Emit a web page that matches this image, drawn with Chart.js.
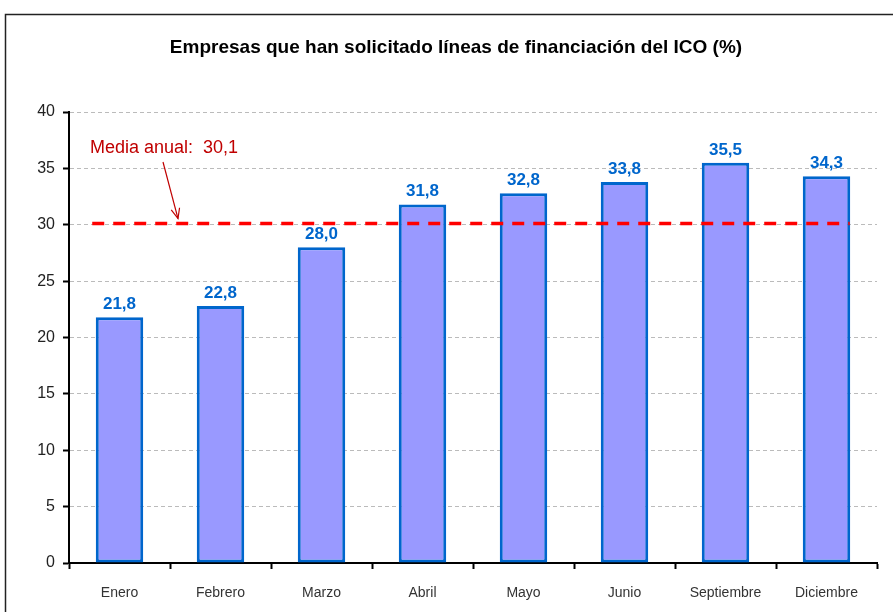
<!DOCTYPE html>
<html>
<head>
<meta charset="utf-8">
<script src="https://cdn.jsdelivr.net/npm/chart.js@4.4.0/dist/chart.umd.min.js"></script>
<style>
  html, body { margin: 0; padding: 0; background: #fff; }
  #wrap { width: 893px; height: 612px; position: relative; }
</style>
</head>
<body>
<div id="wrap"><canvas id="chart"></canvas></div>
<script>
// data
const months = ['Enero', 'Febrero', 'Marzo', 'Abril', 'Mayo', 'Junio', 'Septiembre', 'Diciembre'];
const values = [21.8, 22.8, 28.0, 31.8, 32.8, 33.8, 35.5, 34.3];
const yTicks = [0, 5, 10, 15, 20, 25, 30, 35, 40];
const mediaAnual = 30.1;
const titleText = 'Empresas que han solicitado líneas de financiación del ICO (%)';

const fmt = v => v.toFixed(1).replace('.', ',');

// frame, title, value labels, average line and its note
const extras = {
    id: 'extras',
    beforeDraw(chart) {
        const ctx = chart.ctx;
        ctx.save();
        ctx.fillStyle = '#fff';
        ctx.fillRect(0, 0, chart.width, chart.height);
        ctx.strokeStyle = '#222';
        ctx.lineWidth = 1.5;
        ctx.strokeRect(5.5, 14.5, chart.width + 20, chart.height + 20);
        ctx.fillStyle = '#000';
        ctx.font = 'bold 19px "Liberation Sans", Arial, sans-serif';
        ctx.textAlign = 'center';
        ctx.textBaseline = 'middle';
        ctx.fillText(titleText, 456, 48);
        ctx.restore();
    },
    afterDatasetsDraw(chart) {
        const ctx = chart.ctx;
        const x = chart.scales.x, y = chart.scales.y;
        const meta = chart.getDatasetMeta(0);
        ctx.save();

        // average line
        const step = x.getPixelForValue(1) - x.getPixelForValue(0);
        const yAvg = y.getPixelForValue(mediaAnual);
        ctx.strokeStyle = '#FF0000';
        ctx.lineWidth = 3.5;
        ctx.setLineDash([12, 9]);
        ctx.beginPath();
        ctx.moveTo(x.getPixelForValue(0) - 0.27 * step, yAvg);
        ctx.lineTo(x.getPixelForValue(months.length - 1) + 0.23 * step, yAvg);
        ctx.stroke();
        ctx.setLineDash([]);

        // value labels
        ctx.fillStyle = '#0066CC';
        ctx.font = 'bold 17px "Liberation Sans", Arial, sans-serif';
        ctx.textAlign = 'center';
        ctx.textBaseline = 'alphabetic';
        meta.data.forEach((bar, i) => {
            ctx.fillText(fmt(values[i]), bar.x, bar.y - 8);
        });

        // note + arrow
        ctx.fillStyle = '#C00000';
        ctx.font = '18px "Liberation Sans", Arial, sans-serif';
        ctx.textAlign = 'left';
        ctx.textBaseline = 'middle';
        ctx.fillText('Media anual:  ' + fmt(mediaAnual), 90, 148);
        const x1 = 163, y1 = 162, x2 = 178, y2 = yAvg - 5;
        ctx.strokeStyle = '#C00000';
        ctx.lineWidth = 1.2;
        ctx.beginPath();
        ctx.moveTo(x1, y1);
        ctx.lineTo(x2, y2);
        ctx.stroke();
        const a = Math.atan2(y2 - y1, x2 - x1);
        ctx.beginPath();
        ctx.moveTo(x2 - 11 * Math.cos(a - 0.4), y2 - 11 * Math.sin(a - 0.4));
        ctx.lineTo(x2, y2);
        ctx.lineTo(x2 - 11 * Math.cos(a + 0.4), y2 - 11 * Math.sin(a + 0.4));
        ctx.stroke();
        ctx.restore();
    }
};

new Chart(document.getElementById('chart'), {
    type: 'bar',
    data: {
        labels: months,
        datasets: [{
            data: values,
            backgroundColor: '#9999FF',
            borderColor: '#0066CC',
            borderWidth: 3,
            borderSkipped: false,
            barPercentage: 0.47,
            categoryPercentage: 1
        }]
    },
    options: {
        responsive: true,
        maintainAspectRatio: false,
        animation: false,
        layout: { padding: { top: 112, left: 16, right: 16, bottom: 6 } },
        plugins: {
            legend: { display: false },
            tooltip: { enabled: false }
        },
        scales: {
            x: {
                offset: true,
                grid: {
                    offset: true,
                    drawOnChartArea: false,
                    tickLength: 6,
                    tickColor: '#000',
                    tickWidth: 2
                },
                border: { color: '#000', width: 2 },
                ticks: {
                    color: '#333',
                    font: { family: '"Liberation Sans", Arial, sans-serif', size: 14 },
                    padding: 16
                },
                afterFit: s => { s.height = 43; }
            },
            y: {
                min: 0,
                max: 40,
                afterBuildTicks: s => { s.ticks = yTicks.map(v => ({ value: v })); },
                grid: {
                    color: '#BBBBBB',
                    lineWidth: 1,
                    tickLength: 6,
                    tickColor: '#000',
                    tickWidth: 2,
                    tickBorderDash: []
                },
                border: { color: '#000', width: 2, dash: [4, 3] },
                ticks: {
                    color: '#222',
                    font: { family: '"Liberation Sans", Arial, sans-serif', size: 16 },
                    padding: 8
                },
                afterFit: s => { s.width = 53; }
            }
        }
    },
    plugins: [extras]
});
</script>
</body>
</html>
